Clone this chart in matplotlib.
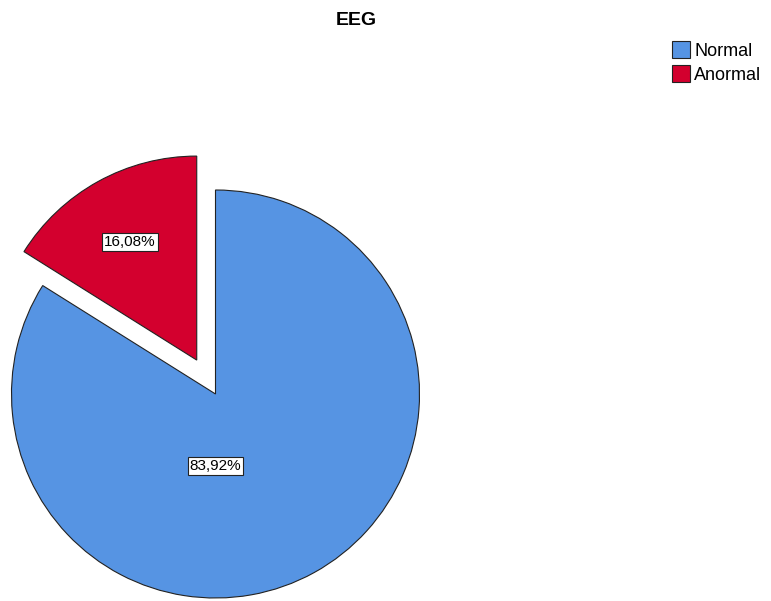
import matplotlib.pyplot as plt

categorias = ['Normal', 'Anormal']
porcentajes = [83.92, 16.08]
colores = ['#5694E3', '#D3002E']
explode = [0, 0.19]

plt.rcParams['font.family'] = ['Liberation Sans', 'DejaVu Sans']

fig = plt.figure(figsize=(7.71, 6.01), dpi=100)
ax = fig.add_axes([0, 0, 1, 1])

wedges, textos, autotextos = ax.pie(
    porcentajes, colors=colores, explode=explode, startangle=90,
    counterclock=False, radius=1,
    autopct=lambda p: ('%.2f%%' % p).replace('.', ','),
    wedgeprops=dict(edgecolor='#222222', linewidth=0.8),
    textprops=dict(fontsize=11))

# posiciones de las etiquetas como en el original
autotextos[0].set_position((0.0, -0.353))
autotextos[1].set_position((-0.419, 0.745))
for t in autotextos:
    t.set_bbox(dict(facecolor='white', edgecolor='#222222', linewidth=0.8, pad=1.5))

# escala: 1 unidad = 204 px, centro en (215.5, 394)
ax.set_xlim(-215.5 / 204, (771 - 215.5) / 204)
ax.set_ylim(-(601 - 394) / 204, 394 / 204)
ax.set_aspect('equal')
ax.axis('off')

fig.text(0.462, 0.966, 'EEG', ha='center', va='center', fontsize=14, fontweight='bold')

ax.legend(wedges, categorias, loc='upper left', bbox_to_anchor=(0.871, 0.931),
          frameon=False, fontsize=13, handlelength=1.05, handleheight=1.05,
          handletextpad=0.2, labelspacing=0.3, borderaxespad=0, borderpad=0)

fig.savefig('out.png', dpi=100)
